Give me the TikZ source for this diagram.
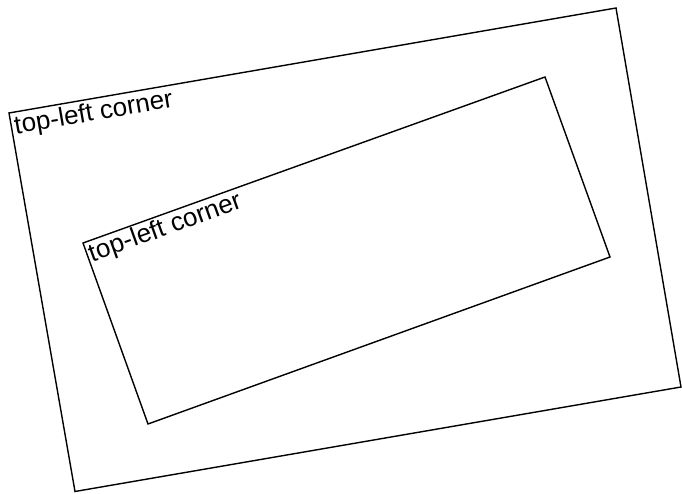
\documentclass[tikz,border=0pt]{standalone}
\usepackage{fontspec}
\setmainfont{Liberation Sans}
\begin{document}
\begin{tikzpicture}[x=1pt,y=1pt,
  frame/.style={draw=black, line width=1.4pt, line join=miter},
  cornerlabel/.style={anchor=north west, inner sep=3pt, font=\fontsize{26}{28}\selectfont}]
\useasboundingbox (0,0) rectangle (682,493);
% outer rectangle
\coordinate (oTL) at (9,380);
\coordinate (oTR) at (616,485);
\coordinate (oBR) at (681,106);
\coordinate (oBL) at (75,1.5);
\draw[frame] (oTL) -- (oTR) -- (oBR) -- (oBL) -- cycle;
\node[cornerlabel, rotate=9.8] (olabel) at (oTL) {top-left corner};
% inner rectangle
\coordinate (iTL) at (83,250);
\coordinate (iTR) at (545,416);
\coordinate (iBR) at (610,236);
\coordinate (iBL) at (148,69);
\draw[frame] (iTL) -- (iTR) -- (iBR) -- (iBL) -- cycle;
\node[cornerlabel, rotate=19.8, inner sep=2pt] (ilabel) at (iTL) {top-left corner};
\end{tikzpicture}
\end{document}
